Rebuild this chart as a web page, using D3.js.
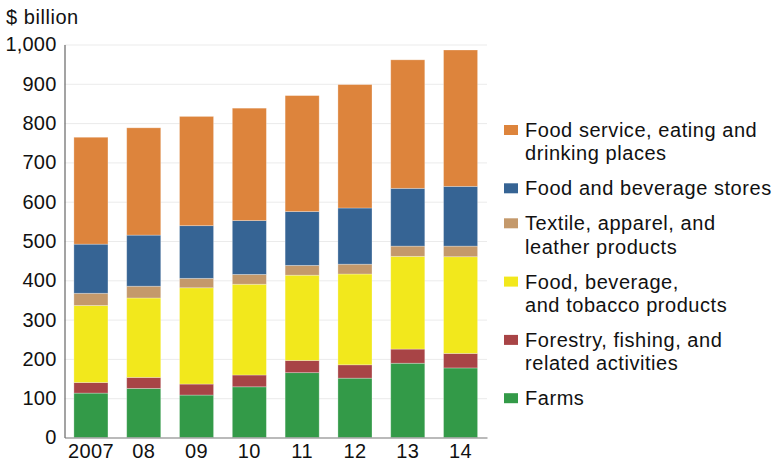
<!DOCTYPE html>
<html>
<head>
<meta charset="utf-8">
<script src="https://d3js.org/d3.v7.min.js"></script>
<style>
body {
  margin: 0;
  background-color: white;
}
text {
  font-family: "Liberation Sans", Arial, sans-serif;
  font-size: 20px;
  letter-spacing: 0.55px;
  fill: #111;
}
.grid line {
  stroke: #ebebeb;
  stroke-width: 1;
}
.grid path {
  display: none;
}
</style>
</head>
<body>
<script>

// values, $ billion
const years = ["2007", "08", "09", "10", "11", "12", "13", "14"];
const farms     = [113, 125, 108, 129, 165, 151, 189, 177];
const forestry  = [27, 28, 28, 30, 31, 34, 36, 37];
const foodMfg   = [196, 202, 245, 231, 217, 231, 236, 246];
const textile   = [31, 30, 24, 25, 25, 25, 26, 27];
const stores    = [125, 130, 134, 137, 137, 143, 147, 152];
const foodServ  = [272, 273, 278, 286, 295, 314, 327, 347];
const yTicks = [0, 100, 200, 300, 400, 500, 600, 700, 800, 900, 1000];

// bottom to top stacking order
const seriesKeys = ["farms", "forestry", "foodMfg", "textile", "stores", "foodServ"];
const colors = {
  farms: "#339a48",
  forestry: "#a84446",
  foodMfg: "#f2e81c",
  textile: "#c4996b",
  stores: "#366494",
  foodServ: "#dd843c"
};
// legend is listed top to bottom
const legendItems = [
  {key: "foodServ", lines: ["Food service, eating and", "drinking places"]},
  {key: "stores", lines: ["Food and beverage stores"]},
  {key: "textile", lines: ["Textile, apparel, and", "leather products"]},
  {key: "foodMfg", lines: ["Food, beverage,", "and tobacco products"]},
  {key: "forestry", lines: ["Forestry, fishing, and", "related activities"]},
  {key: "farms", lines: ["Farms"]}
];

const table = years.map((yr, i) => ({
  year: yr,
  farms: farms[i],
  forestry: forestry[i],
  foodMfg: foodMfg[i],
  textile: textile[i],
  stores: stores[i],
  foodServ: foodServ[i]
}));

const W = 781, H = 462;
const svg = d3.select("body").append("svg")
  .attr("width", W)
  .attr("height", H);

const plotL = 64.5, plotR = 487, plotT = 44.5, plotB = 437.5;

const x = d3.scaleBand()
  .domain(years)
  .range([plotL, plotR])
  .paddingInner(0.355)
  .paddingOuter(0.178);

const y = d3.scaleLinear()
  .domain([0, 1000])
  .range([plotB, plotT]);

// gridlines
svg.append("g")
  .attr("class", "grid")
  .attr("transform", `translate(${plotL}, 0)`)
  .call(d3.axisLeft(y).tickValues(yTicks.slice(1)).tickSize(-(plotR - plotL)).tickFormat(""));

const stacked = d3.stack().keys(seriesKeys)(table);

svg.append("g").selectAll("g")
  .data(stacked).enter()
  .append("g")
  .attr("fill", d => colors[d.key])
  .selectAll("rect")
  .data(d => d).enter()
  .append("rect")
  .attr("x", d => x(d.data.year))
  .attr("width", x.bandwidth())
  .attr("y", d => y(d[1]))
  .attr("height", d => y(d[0]) - y(d[1]))
  .attr("stroke", "white")
  .attr("stroke-opacity", 0.35)
  .attr("stroke-width", 0.8);

// y axis
const yAxis = svg.append("g")
  .attr("transform", `translate(${plotL}, 0)`)
  .call(d3.axisLeft(y).tickValues(yTicks).tickSize(0).tickPadding(8).tickFormat(d3.format(",")));
yAxis.select(".domain").attr("stroke", "#666").attr("stroke-width", 1.2);
yAxis.selectAll("text")
  .style("font-size", "20px")
  .style("letter-spacing", "0.2px")
  .attr("fill", "#111");

// x axis
const xAxis = svg.append("g")
  .attr("transform", `translate(0, ${plotB})`)
  .call(d3.axisBottom(x).tickSize(0).tickSizeOuter(0));
xAxis.select(".domain").attr("stroke", "#777").attr("stroke-width", 1.2);
xAxis.selectAll("text")
  .style("font-size", "20px")
  .style("letter-spacing", "0.4px")
  .attr("fill", "#111")
  .attr("y", 20)
  .attr("dy", null);

svg.append("text")
  .attr("x", 6)
  .attr("y", 24)
  .text("$ billion");

// legend
const lineH = 23.3, itemGap = 35;
let base = 137;
legendItems.forEach(item => {
  const g = svg.append("g");
  g.append("rect")
    .attr("x", 504)
    .attr("y", base - 12)
    .attr("width", 14)
    .attr("height", 10)
    .attr("fill", colors[item.key]);
  item.lines.forEach((ln, j) => {
    g.append("text")
      .attr("x", 525)
      .attr("y", base + j * lineH)
      .text(ln);
  });
  base += (item.lines.length - 1) * lineH + itemGap;
});

</script>
</body>
</html>
